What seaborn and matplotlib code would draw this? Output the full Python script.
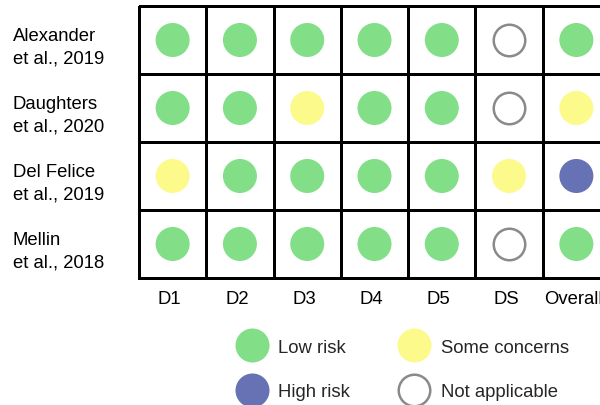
import numpy as np
import pandas as pd
import matplotlib
matplotlib.use("Agg")
import matplotlib.pyplot as plt
import matplotlib.transforms as mtransforms
from matplotlib.colors import ListedColormap
from matplotlib.lines import Line2D
import seaborn as sns

# Risk-of-bias judgements per study and domain
studies = ["Alexander\net al., 2019", "Daughters\net al., 2020",
           "Del Felice\net al., 2019", "Mellin\net al., 2018"]
domains = ["D1", "D2", "D3", "D4", "D5", "DS", "Overall"]
alexander_2019 = ["Low", "Low", "Low", "Low", "Low", "NA", "Low"]
daughters_2020 = ["Low", "Low", "Some", "Low", "Low", "NA", "Some"]
del_felice_2019 = ["Some", "Low", "Low", "Low", "Low", "Some", "High"]
mellin_2018 = ["Low", "Low", "Low", "Low", "Low", "NA", "Low"]

legend_labels = {"Low": "Low risk", "Some": "Some concerns",
                 "High": "High risk", "NA": "Not applicable"}
colors = {"Low": "#82DF87", "Some": "#FDFA8C", "High": "#6672B3"}
na_edge = "#8A8A8A"

sns.set_theme(style="white")
plt.rcParams["font.family"] = ["Liberation Sans", "DejaVu Sans"]
FS = 13.3

rows = [alexander_2019, daughters_2020, del_felice_2019, mellin_2018]
records = []
for i, (study, judgements) in enumerate(zip(studies, rows)):
    for j, (dom, jd) in enumerate(zip(domains, judgements)):
        records.append({"study": study, "domain": dom, "judgement": jd,
                        "x": j + 0.5, "y": i + 0.5})
df = pd.DataFrame(records)

fig = plt.figure(figsize=(6, 4.06), dpi=100)
ax = fig.add_axes([139 / 600, 1 - 279 / 406, 471 / 600, 272 / 406])

# Traffic-light grid
grid = pd.DataFrame(np.zeros((len(studies), len(domains))), index=studies, columns=domains)
sns.heatmap(grid, cmap=ListedColormap(["white"]), cbar=False,
            linewidths=2.0, linecolor="black", ax=ax)
ax.collections[0].set_clip_on(False)

filled = df[df["judgement"] != "NA"]
sns.scatterplot(data=filled, x="x", y="y", hue="judgement", palette=colors,
                s=600, linewidth=0, legend=False, ax=ax, zorder=3)
na = df[df["judgement"] == "NA"]
sns.scatterplot(data=na, x="x", y="y", s=515, color="white",
                edgecolor=na_edge, linewidth=1.8, legend=False, ax=ax, zorder=3)

ax.set_xlim(0, len(domains))
ax.set_ylim(len(studies), 0)
ax.set_xticks(np.arange(len(domains)) + 0.5, domains)
ax.set_yticks(np.arange(len(studies)) + 0.5, studies)
ax.set_xlabel("")
ax.set_ylabel("")
ax.tick_params(axis="both", length=0, labelsize=FS, colors="black")
ax.tick_params(axis="x", pad=8.5)
ax.tick_params(axis="y", pad=91)

y_shift = mtransforms.ScaledTranslation(0, -0.07, fig.dpi_scale_trans)
for t in ax.get_yticklabels():
    t.set_ha("left")
    t.set_rotation(0)
    t.set_linespacing(1.43)
    t.set_transform(t.get_transform() + y_shift)
x_shift = mtransforms.ScaledTranslation(-0.03, 0, fig.dpi_scale_trans)
for t in ax.get_xticklabels():
    t.set_transform(t.get_transform() + x_shift)
for sp in ax.spines.values():
    sp.set_visible(False)

def handle(key):
    if key == "NA":
        return Line2D([], [], marker="o", linestyle="", markersize=22.7,
                      markerfacecolor="white", markeredgecolor=na_edge,
                      markeredgewidth=1.8, label=legend_labels[key])
    return Line2D([], [], marker="o", linestyle="", markersize=24.5,
                  markerfacecolor=colors[key], markeredgewidth=0,
                  label=legend_labels[key])

handles = [handle(k) for k in ["Low", "High", "Some", "NA"]]
fig.legend(handles=handles, ncol=2, loc="center", bbox_to_anchor=(0.676, 0.0874),
           frameon=False, fontsize=FS, handlelength=1.0, handletextpad=0.95,
           columnspacing=2.94, labelspacing=1.51)

fig.savefig("out.png", dpi=100)
